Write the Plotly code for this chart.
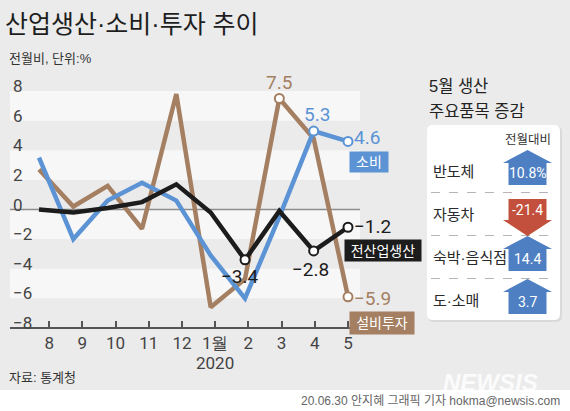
import plotly.graph_objects as go

W, H = 570, 411


def px(x, y):
    return x / W, 1 - y / H


# ---------------- data ----------------
months = ["8", "9", "10", "11", "12", "1월", "2", "3", "4", "5"]
year_label = "2020"
production = [0.0, -0.2, 0.1, 0.5, 1.7, -0.2, -3.4, -0.1, -2.8, -1.2]   # 전산업생산
consumption = [3.5, -2.0, 0.6, 1.8, 0.6, -3.1, -6.0, -0.5, 5.3, 4.6]    # 소비
investment = [2.7, 0.2, 1.6, -1.3, 7.8, -6.6, -4.7, 7.5, 4.8, -5.9]     # 설비투자
y_ticks = [-8, -6, -4, -2, 0, 2, 4, 6, 8]

items = ["반도체", "자동차", "숙박·음식점", "도·소매"]
item_changes = [10.8, -21.4, 14.4, 3.7]

# ---------------- style ----------------
BG = "#ebebeb"
BAND = "#f7f7f7"
BLUE = "#5b93d4"
BROWN = "#a47f62"
BLACK = "#1c1c1c"
ARROW_UP = "#4e7fc3"
ARROW_DN = "#c2503c"
KR = "Liberation Sans, Noto Sans CJK KR, sans-serif"
NUM = "Liberation Sans Narrow, Roboto, sans-serif"


def fmt(v):
    return f"{v:.1f}".replace("-", "\u2212")


x = list(range(len(months)))
tick_ratio = 0.967
tickvals = [x[-1] - (x[-1] - i) * tick_ratio for i in x]

fig = go.Figure()
series = [
    ("설비투자", investment, BROWN, [7, 9]),
    ("소비", consumption, BLUE, [8, 9]),
    ("전산업생산", production, BLACK, [6, 8, 9]),
]
for name, vals, col, marks in series:
    fig.add_trace(go.Scatter(x=x, y=vals, mode="lines", name=name,
                             line=dict(color=col, width=4.5),
                             hoverinfo="skip", showlegend=False))
for name, vals, col, marks in series:
    fig.add_trace(go.Scatter(x=[x[i] for i in marks], y=[vals[i] for i in marks],
                             mode="markers", cliponaxis=False,
                             marker=dict(size=9, color="white", line=dict(color=col, width=2)),
                             hoverinfo="skip", showlegend=False))

shapes = []
# bottom white strip
x0, y0 = px(0, 390)
x1, y1 = px(W, H)
shapes.append(dict(type="rect", xref="paper", yref="paper", x0=x0, y0=y0, x1=x1, y1=y1,
                   fillcolor="white", line=dict(width=0), layer="below"))
# bands
for lo in [6, 2, -2, -6]:
    shapes.append(dict(type="rect", xref="x domain", yref="y", x0=0, x1=1, y0=lo, y1=lo + 2,
                       fillcolor=BAND, line=dict(width=0), layer="below"))
shapes.append(dict(type="line", xref="x domain", yref="y", x0=0, x1=1, y0=0, y1=0,
                   line=dict(color="#8c8c8c", width=1.5), layer="below"))


def path_px(points, close=True):
    s = ""
    for k, (a, b) in enumerate(points):
        u, v = px(a, b)
        s += ("M" if k == 0 else "L") + f"{u:.5f},{v:.5f} "
    return s + ("Z" if close else "")


def rrect_px(xa, ya, xb, yb, r):
    def p(a, b):
        u, v = px(a, b)
        return f"{u:.5f},{v:.5f}"
    return (f"M{p(xa + r, ya)} L{p(xb - r, ya)} Q{p(xb, ya)} {p(xb, ya + r)} "
            f"L{p(xb, yb - r)} Q{p(xb, yb)} {p(xb - r, yb)} L{p(xa + r, yb)} "
            f"Q{p(xa, yb)} {p(xa, yb - r)} L{p(xa, ya + r)} Q{p(xa, ya)} {p(xa + r, ya)} Z")


# right panel box
shapes.append(dict(type="path", xref="paper", yref="paper", path=rrect_px(428, 126, 562, 322, 6),
                   fillcolor="#d9d9d9", line=dict(width=0)))
shapes.append(dict(type="path", xref="paper", yref="paper", path=rrect_px(427, 125, 560, 320, 6),
                   fillcolor="white", line=dict(width=0)))

row_y = [171, 214, 257, 300]
for k in range(len(row_y) - 1):
    yy = (row_y[k] + row_y[k + 1]) / 2
    a, b = px(431, yy)
    c, d = px(556, yy)
    shapes.append(dict(type="line", xref="paper", yref="paper", x0=a, y0=b, x1=c, y1=d,
                       line=dict(color="#b5b5b5", width=1, dash="dash")))

annotations = []
cx = 527.5
for name, val, yc in zip(items, item_changes, row_y):
    if val >= 0:
        pts = [(cx, yc - 21), (cx + 24.5, yc - 8), (cx + 19, yc - 8), (cx + 19, yc + 14),
               (cx - 19, yc + 14), (cx - 19, yc - 8), (cx - 24.5, yc - 8)]
        col = ARROW_UP
        ty = yc + 2
    else:
        pts = [(cx - 19, yc - 15), (cx + 19, yc - 15), (cx + 19, yc + 6), (cx + 24.5, yc + 6),
               (cx, yc + 22), (cx - 24.5, yc + 6), (cx - 19, yc + 6)]
        col = ARROW_DN
        ty = yc - 4
    shapes.append(dict(type="path", xref="paper", yref="paper", path=path_px(pts),
                       fillcolor=col, line=dict(width=0)))
    label = f"{val:.1f}" + ("%" if name == items[0] else "")
    u, v = px(cx, ty)
    annotations.append(dict(text=label, x=u, y=v, xref="paper", yref="paper", showarrow=False,
                            xanchor="center", yanchor="middle",
                            font=dict(family=NUM, size=14, color="white")))
    u, v = px(431, yc)
    annotations.append(dict(text=name, x=u, y=v, xref="paper", yref="paper", showarrow=False,
                            xanchor="left", yanchor="middle",
                            font=dict(family=KR, size=15, color="#2a2a2a")))


def ann_px(text, xx, yy, size, color, family=KR, xanchor="left", **kw):
    u, v = px(xx, yy)
    d = dict(text=text, x=u, y=v, xref="paper", yref="paper", showarrow=False,
             xanchor=xanchor, yanchor="middle", font=dict(family=family, size=size, color=color))
    d.update(kw)
    annotations.append(d)


ann_px("전월대비", 553, 140, 12.5, "#333333", xanchor="right")
ann_px("5월 생산", 427, 86, 16.5, "#222222")
ann_px("주요품목 증감", 427, 111, 16.5, "#222222")
ann_px("산업생산·소비·투자 추이", 3, 24, 25, "#1e1e1e")
ann_px("전월비, 단위:%", 7, 59, 13, "#333333")
ann_px("자료: 통계청", 7, 377, 13, "#333333")
ann_px("20.06.30 안지혜 그래픽 기자 hokma@newsis.com", 562, 401, 12, "#666666", xanchor="right")
ann_px("<b><i>NEWSIS</i></b>", 490, 382, 24, "rgba(255,255,255,0.85)",
       family="Liberation Sans, Arial, sans-serif", xanchor="center")

# year label under 1월
annotations.append(dict(text=year_label, x=tickvals[5], y=px(0, 363)[1], xref="x", yref="paper",
                        showarrow=False, xanchor="center", yanchor="middle",
                        font=dict(family=NUM, size=17, color="#444444")))

# value labels
value_labels = [
    (investment, 7, BROWN, dict(xanchor="center", yanchor="bottom", xshift=0, yshift=3)),
    (consumption, 8, BLUE, dict(xanchor="center", yanchor="bottom", xshift=3, yshift=3)),
    (consumption, 9, BLUE, dict(xanchor="left", yanchor="middle", xshift=4, yshift=4)),
    (production, 9, BLACK, dict(xanchor="left", yanchor="middle", xshift=4, yshift=1)),
    (investment, 9, BROWN, dict(xanchor="left", yanchor="middle", xshift=4, yshift=-2)),
    (production, 6, BLACK, dict(xanchor="center", yanchor="top", xshift=-5, yshift=-3)),
    (production, 8, BLACK, dict(xanchor="center", yanchor="top", xshift=-3, yshift=-5)),
]
for vals, i, col, pos in value_labels:
    d = dict(text=fmt(vals[i]), x=x[i], y=vals[i], xref="x", yref="y", showarrow=False,
             font=dict(family=NUM, size=19, color=col))
    d.update(pos)
    annotations.append(d)

# series name boxes
name_boxes = [("소비", BLUE, 369, 162, 38, 20), ("전산업생산", BLACK, 383, 250, 76, 21),
              ("설비투자", BROWN, 382, 323, 64, 22)]
for text, col, bx, by, bw, bh in name_boxes:
    u, v = px(bx, by)
    annotations.append(dict(text=text, x=u, y=v, xref="paper", yref="paper", showarrow=False,
                            xanchor="center", yanchor="middle", bgcolor=col, width=bw, height=bh,
                            borderpad=0, font=dict(family=KR, size=14, color="white")))

y_zero_px = 209.5
unit_px = 14.8
y_axis_px = y_zero_px + 8 * unit_px          # pixel row of the -8 axis line
y_dom_bottom_px = 345
y_bottom = (y_zero_px - y_dom_bottom_px) / unit_px
y_top = 10.1
x_unit_px = (348 - 39) / (len(months) - 1)

fig.update_layout(
    width=W, height=H, margin=dict(l=0, r=0, t=0, b=0),
    paper_bgcolor=BG, plot_bgcolor="rgba(0,0,0,0)",
    shapes=shapes, annotations=annotations, showlegend=False,
    xaxis=dict(domain=[10 / W, 360 / W], anchor="free", position=1 - y_axis_px / H,
               range=[-(39 - 10) / x_unit_px, x[-1] + (360 - 348) / x_unit_px],
               tickvals=tickvals, ticktext=months, ticks="inside", ticklen=6, tickwidth=1.5,
               tickcolor="#555555", showline=True, linecolor="#555555", linewidth=1.5,
               showgrid=False, zeroline=False, fixedrange=True,
               tickfont=dict(family=NUM, size=17, color="#444444")),
    yaxis=dict(domain=[1 - y_dom_bottom_px / H, 1 - (y_zero_px - y_top * unit_px) / H],
               range=[y_bottom, y_top], tickvals=y_ticks, ticklabelposition="inside top",
               ticklabelshift=7, ticklabelstandoff=0,
               ticks="", showgrid=False, zeroline=False, showline=False, fixedrange=True,
               tickfont=dict(family=NUM, size=17, color="#444444")),
)

fig.write_html("out.html")
